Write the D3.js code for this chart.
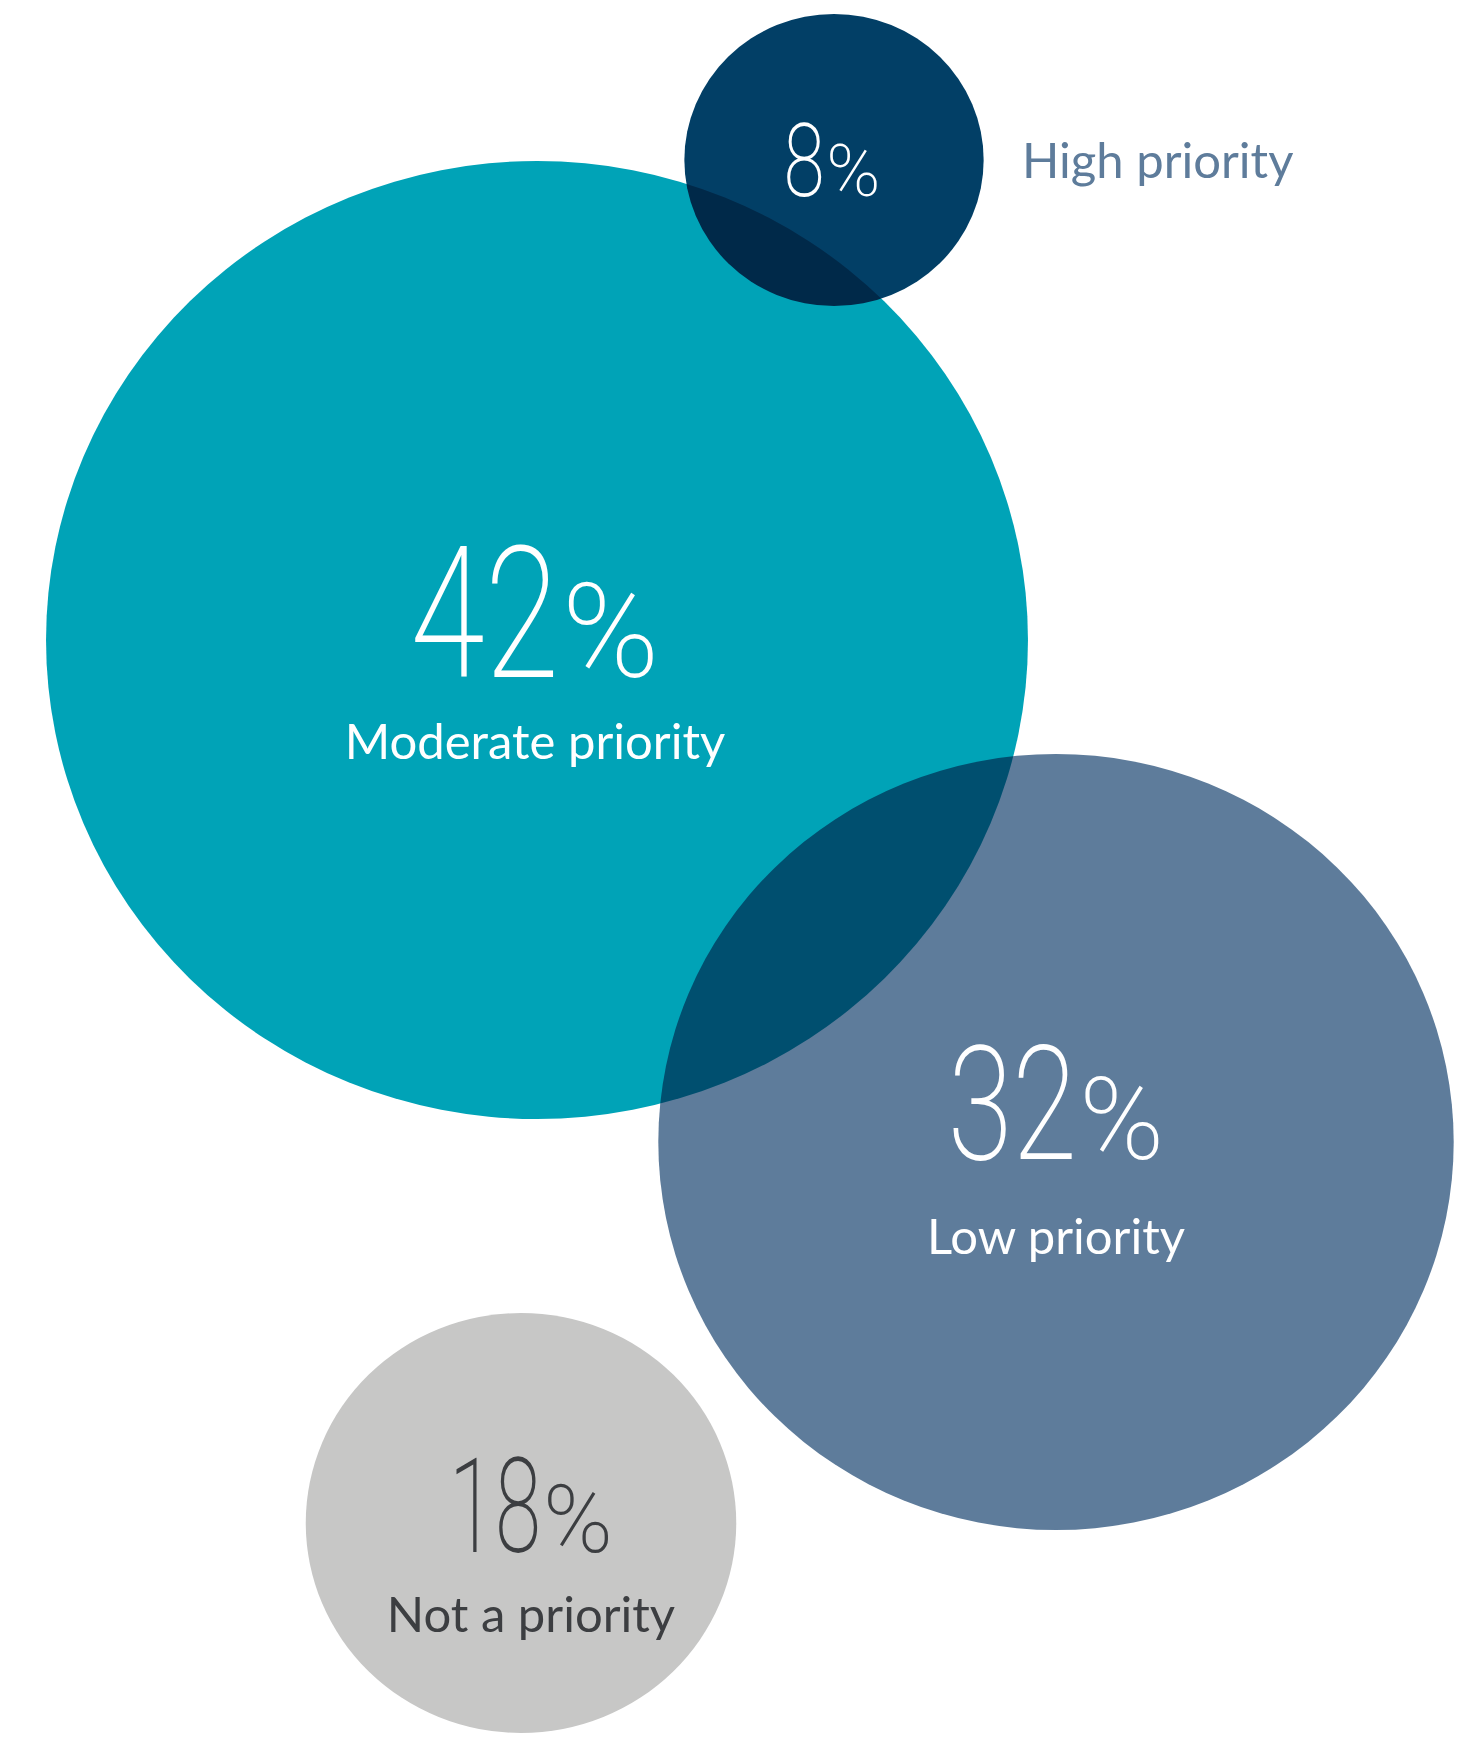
<!DOCTYPE html>
<html>
<head>
<meta charset="utf-8">
<script src="https://cdn.jsdelivr.net/npm/d3@7"></script>
<style>
    body { margin: 0; background: #ffffff; }
    .bubble { mix-blend-mode: multiply; }
</style>
</head>
<body>
<div id="chart-area"></div>
<script>
// data
var categories = ["High priority", "Moderate priority", "Low priority", "Not a priority"];
var shares = [8, 42, 32, 18];

// layout (hand placed bubbles)
var centres = [[834, 160], [537, 640], [1056, 1142], [521, 1523]];
var textDx = [-2, -2, 0, 10];
var numberDy = [36, 37, 17, 29];
var labelDy = [18, 119, 112, 109];

var fillColors = ["#023f66", "#00a3b7", "#5e7c9b", "#c7c7c6"];
var textColors = ["#ffffff", "#ffffff", "#ffffff", "#3c3e41"];
var labelColors = ["#5e7c9b", "#ffffff", "#ffffff", "#3c3e41"];

BubbleChart = function(_parentElement){
    this.parentElement = _parentElement;
    this.initVis();
};

BubbleChart.prototype.initVis = function(){
    var vis = this;

    vis.width = 1470;
    vis.height = 1737;
    vis.stretch = 1.025;   // source picture is slightly wider than tall

    vis.svg = d3.select(vis.parentElement)
        .append("svg")
        .attr("width", vis.width)
        .attr("height", vis.height);

    // bubble size is not a plain area scale in the original, so use stops
    vis.r = d3.scaleLinear()
        .domain([8, 18, 32, 42])
        .range([146, 210, 388, 479]);

    // height of the big figures inside each bubble
    vis.digitH = d3.scaleLinear()
        .domain([8, 18, 32, 42])
        .range([72, 93, 113, 130]);

    vis.data = shares.map(function(d, i){
        return {
            label: categories[i],
            value: d,
            cx: centres[i][0],
            cy: centres[i][1],
            dx: textDx[i],
            fill: fillColors[i],
            text: textColors[i],
            labelColor: labelColors[i],
            numberDy: numberDy[i],
            labelDy: labelDy[i],
            outside: i == 0
        };
    });

    vis.updateVis();
};

BubbleChart.prototype.updateVis = function(){
    var vis = this;

    vis.svg.selectAll(".bubble")
        .data(vis.data)
        .enter().append("ellipse")
        .attr("class", "bubble")
        .attr("cx", function(d) { return d.cx; })
        .attr("cy", function(d) { return d.cy; })
        .attr("rx", function(d) { return vis.r(d.value) * vis.stretch; })
        .attr("ry", function(d) { return vis.r(d.value); })
        .attr("fill", function(d) { return d.fill; });

    var groups = vis.svg.selectAll(".bubble-text")
        .data(vis.data)
        .enter().append("g")
        .attr("class", "bubble-text")
        .attr("transform", function(d) { return "translate(" + (d.cx + d.dx) + "," + d.cy + ")"; });

    groups.each(function(d){
        var g = d3.select(this);
        var h = vis.digitH(d.value);
        var fs = h / 0.711;
        var sx = d.value == 18 ? 0.64 : 0.74;
        var gap = h * 0.02;

        var numG = g.append("g")
            .attr("transform", "translate(0," + d.numberDy + ")");

        var num = numG.append("text")
            .attr("font-family", "Roboto")
            .attr("font-weight", 200)
            .attr("font-size", fs)
            .attr("fill", d.text)
            .text(d.value);

        var pct = numG.append("text")
            .attr("font-family", "Roboto")
            .attr("font-weight", 200)
            .attr("font-size", fs * 0.72)
            .attr("fill", d.text)
            .text("%");

        var wNum = num.node().getComputedTextLength() * sx;
        var wPct = pct.node().getComputedTextLength();
        var x0 = -(wNum + gap + wPct) / 2;

        num.attr("transform", "translate(" + x0 + ",0) scale(" + sx + ",1)");
        pct.attr("x", x0 + wNum + gap);

        g.append("text")
            .attr("x", d.outside ? 190 : 0)
            .attr("y", d.labelDy)
            .attr("text-anchor", d.outside ? "start" : "middle")
            .attr("font-family", "Lato")
            .attr("font-size", 49)
            .attr("fill", d.labelColor)
            .text(d.label);
    });
};

var chart = new BubbleChart("#chart-area");
</script>
</body>
</html>
